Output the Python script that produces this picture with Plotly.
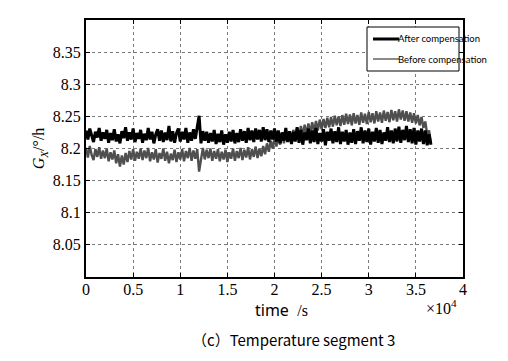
import numpy as np
import plotly.graph_objects as go

# sampling grid (s)
t_step = 200
t_end = 36600
time_s = np.arange(0, t_end + 1, t_step)

after_comp = [
    8.228, 8.214, 8.231, 8.219, 8.210, 8.226, 8.217, 8.232, 8.212, 8.225,
    8.215, 8.229, 8.209, 8.224, 8.213, 8.230, 8.211, 8.222, 8.208, 8.227,
    8.216, 8.233, 8.212, 8.225, 8.214, 8.231, 8.210, 8.224, 8.215, 8.229,
    8.209, 8.223, 8.213, 8.232, 8.214, 8.226, 8.208, 8.222, 8.230, 8.212,
    8.228, 8.210, 8.225, 8.213, 8.235, 8.211, 8.227, 8.209, 8.224, 8.231,
    8.211, 8.226, 8.214, 8.232, 8.209, 8.225, 8.212, 8.230, 8.215, 8.233,
    8.251, 8.208, 8.227, 8.212, 8.226, 8.209, 8.224, 8.211, 8.229, 8.207,
    8.223, 8.210, 8.228, 8.206, 8.222, 8.209, 8.226, 8.211, 8.229, 8.208,
    8.224, 8.210, 8.230, 8.212, 8.227, 8.209, 8.232, 8.213, 8.228, 8.210,
    8.231, 8.214, 8.229, 8.211, 8.233, 8.213, 8.230, 8.210, 8.228, 8.214,
    8.231, 8.211, 8.228, 8.208, 8.225, 8.212, 8.232, 8.210, 8.227, 8.207,
    8.226, 8.211, 8.233, 8.209, 8.229, 8.206, 8.225, 8.213, 8.231, 8.208,
    8.228, 8.210, 8.232, 8.207, 8.224, 8.211, 8.230, 8.205, 8.226, 8.212,
    8.231, 8.208, 8.227, 8.210, 8.233, 8.207, 8.226, 8.211, 8.229, 8.206,
    8.225, 8.209, 8.230, 8.207, 8.227, 8.212, 8.233, 8.208, 8.228, 8.210,
    8.231, 8.206, 8.226, 8.211, 8.232, 8.209, 8.229, 8.207, 8.225, 8.212,
    8.233, 8.210, 8.228, 8.208, 8.231, 8.211, 8.234, 8.209, 8.229, 8.213,
    8.235, 8.210, 8.230, 8.208, 8.232, 8.206, 8.228, 8.211, 8.231, 8.207,
    8.228, 8.205, 8.222, 8.206,
]

before_comp = [
    8.201, 8.186, 8.204, 8.190, 8.182, 8.199, 8.187, 8.202, 8.184, 8.197,
    8.185, 8.200, 8.180, 8.194, 8.183, 8.197, 8.177, 8.191, 8.172, 8.189,
    8.175, 8.193, 8.179, 8.196, 8.183, 8.199, 8.181, 8.195, 8.184, 8.200,
    8.182, 8.197, 8.185, 8.201, 8.180, 8.194, 8.183, 8.199, 8.178, 8.193,
    8.184, 8.200, 8.181, 8.195, 8.177, 8.192, 8.182, 8.198, 8.179, 8.194,
    8.183, 8.199, 8.180, 8.196, 8.185, 8.201, 8.181, 8.197, 8.184, 8.199,
    8.164, 8.187, 8.201, 8.183, 8.198, 8.185, 8.200, 8.181, 8.196, 8.184,
    8.199, 8.180, 8.195, 8.183, 8.198, 8.179, 8.194, 8.184, 8.200, 8.181,
    8.196, 8.185, 8.201, 8.182, 8.198, 8.186, 8.202, 8.183, 8.199, 8.187,
    8.203, 8.185, 8.200, 8.188, 8.204, 8.191, 8.208, 8.195, 8.212, 8.200,
    8.216, 8.203, 8.219, 8.206, 8.222, 8.208, 8.224, 8.211, 8.227, 8.213,
    8.229, 8.215, 8.232, 8.217, 8.235, 8.220, 8.237, 8.222, 8.239, 8.224,
    8.241, 8.226, 8.243, 8.228, 8.245, 8.230, 8.246, 8.232, 8.248, 8.233,
    8.249, 8.234, 8.251, 8.236, 8.250, 8.235, 8.252, 8.237, 8.254, 8.238,
    8.253, 8.236, 8.255, 8.239, 8.252, 8.237, 8.256, 8.240, 8.254, 8.238,
    8.257, 8.241, 8.255, 8.239, 8.258, 8.242, 8.256, 8.240, 8.259, 8.243,
    8.257, 8.241, 8.260, 8.244, 8.258, 8.242, 8.261, 8.245, 8.259, 8.243,
    8.258, 8.242, 8.256, 8.240, 8.255, 8.239, 8.252, 8.236, 8.249, 8.232,
    8.242, 8.222, 8.228, 8.208,
]

x_tickvals = [0, 5000, 10000, 15000, 20000, 25000, 30000, 35000, 40000]
x_ticktext = ["0", "0.5", "1", "1.5", "2", "2.5", "3", "3.5", "4"]
y_tickvals = [8.05, 8.10, 8.15, 8.20, 8.25, 8.30, 8.35]
y_ticktext = ["8.05", "8.1", "8.15", "8.2", "8.25", "8.3", "8.35"]

serif = "Liberation Serif, Times New Roman, serif"
narrow = "Liberation Sans Narrow, Lato, sans-serif"

fig = go.Figure()
fig.add_trace(go.Scatter(x=time_s, y=before_comp, mode="lines", name="Before compensation",
                         line=dict(color="#4f4f4f", width=2.4), showlegend=False))
fig.add_trace(go.Scatter(x=time_s, y=after_comp, mode="lines", name="After compensation",
                         line=dict(color="#000000", width=3), showlegend=False))

axis_common = dict(showline=True, linecolor="black", linewidth=2, mirror="ticks",
                   ticks="inside", ticklen=4, tickwidth=1, tickcolor="black",
                   showgrid=True, gridcolor="#7a7a7a", gridwidth=1, griddash="dot",
                   zeroline=False, tickfont=dict(family=serif, size=16, color="black"))

fig.update_xaxes(range=[0, 40000], tickvals=x_tickvals, ticktext=x_ticktext,
                 ticklabelstandoff=-3, **axis_common)
fig.update_yaxes(range=[8.0, 8.4], tickvals=y_tickvals, ticktext=y_ticktext,
                 title=dict(text="<i>G</i><sub><i>X</i></sub>/°/h",
                            font=dict(family=serif, size=16, color="black"), standoff=4),
                 **axis_common)

L, R, T, B = 86, 463, 20, 277
W, H = 508, 361

def px(xp):
    return (xp - L) / (R - L)

def py(yp):
    return (B - yp) / (B - T)

def ann(text, x, y, size, family, xanchor="center"):
    return dict(text=text, x=px(x), y=py(y), xref="paper", yref="paper", showarrow=False,
                xanchor=xanchor, yanchor="middle",
                font=dict(family=family, size=size, color="black"))

annotations = [
    ann("time  <span style='font-family:Liberation Serif'>/s</span>", 281, 310, 16, "Noto Sans"),
    ann("×10<sup>4</sup>", 441, 307, 16, serif),
    ann("（c）Temperature segment 3", 293, 339, 15, "Noto Sans CJK SC, Noto Sans"),
    ann("After compensation", 396, 39, 9.5, narrow, "left"),
    ann("Before compensation", 396, 59, 9.5, narrow, "left"),
]

shapes = [
    dict(type="rect", xref="paper", yref="paper", x0=px(367), x1=px(459), y0=py(71), y1=py(27),
         line=dict(color="black", width=1), fillcolor="white", layer="above"),
    dict(type="line", xref="paper", yref="paper", x0=px(373), x1=px(399), y0=py(39), y1=py(39),
         line=dict(color="black", width=3)),
    dict(type="line", xref="paper", yref="paper", x0=px(373), x1=px(399), y0=py(59), y1=py(59),
         line=dict(color="#8a8a8a", width=2)),
]

fig.update_layout(width=W, height=H, margin=dict(l=L, r=W - R, t=T, b=H - B),
                  paper_bgcolor="white", plot_bgcolor="white",
                  annotations=annotations, shapes=shapes, showlegend=False)

fig.write_html("out.html")
